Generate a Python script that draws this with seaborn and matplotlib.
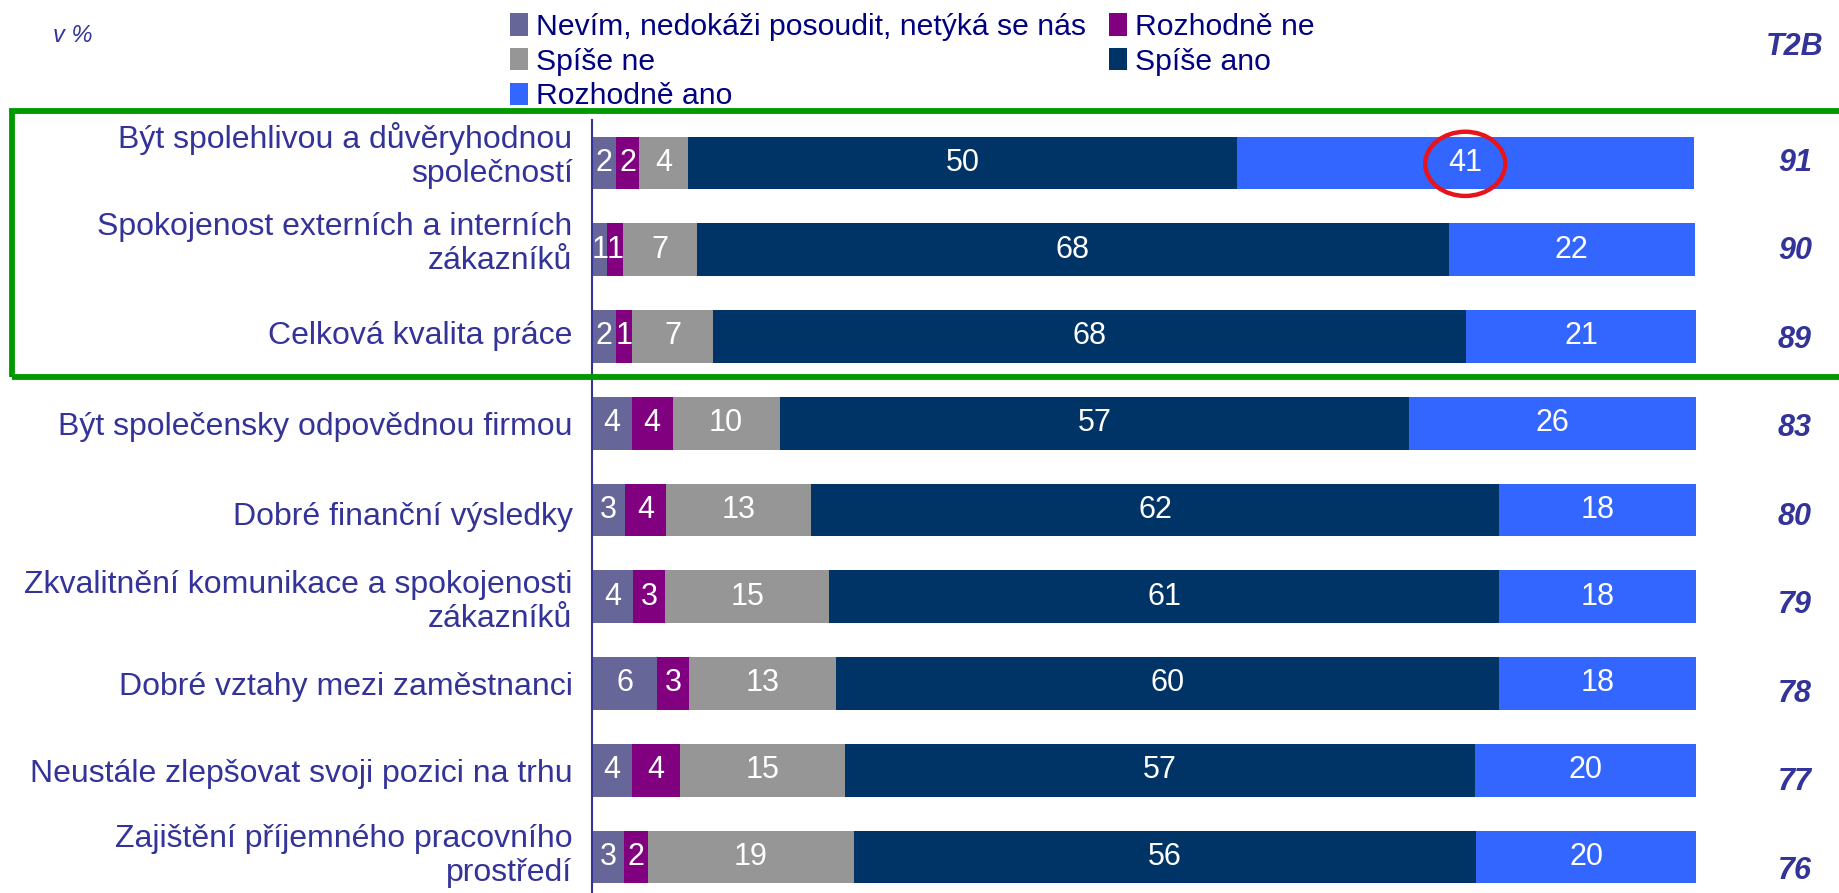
import numpy as np
import pandas as pd
import matplotlib
matplotlib.use("Agg")
import matplotlib.pyplot as plt
import matplotlib.transforms as mtransforms
import seaborn as sns
from matplotlib.patches import Ellipse, Rectangle, Patch

# ---------------- data ----------------
categories = [
    "Být spolehlivou a důvěryhodnou\nspolečností",
    "Spokojenost externích a interních\nzákazníků",
    "Celková kvalita práce",
    "Být společensky odpovědnou firmou",
    "Dobré finanční výsledky",
    "Zkvalitnění komunikace a spokojenosti\nzákazníků",
    "Dobré vztahy mezi zaměstnanci",
    "Neustále zlepšovat svoji pozici na trhu",
    "Zajištění příjemného pracovního\nprostředí",
]
series_names = ["Nevím, nedokáži posoudit, netýká se nás", "Rozhodně ne",
                "Spíše ne", "Spíše ano", "Rozhodně ano"]
nevim = [2.2, 1.4, 2.2, 3.6, 3.0, 3.7, 5.9, 3.6, 2.9]
rozhodne_ne = [2.1, 1.4, 1.4, 3.7, 3.7, 2.9, 2.9, 4.4, 2.2]
spise_ne = [4.4, 6.7, 7.4, 9.7, 13.1, 14.9, 13.3, 14.9, 18.6]
spise_ano = [49.7, 68.1, 68.2, 57.0, 62.4, 60.7, 60.1, 57.1, 56.4]
rozhodne_ano = [41.4, 22.3, 20.8, 26.0, 17.8, 17.8, 17.8, 20.0, 20.0]
t2b = [91, 90, 89, 83, 80, 79, 78, 77, 76]
circled = (0, 4)              # (row, series) of the circled value

colors = ["#666699", "#800080", "#969696", "#003366", "#3366FF"]
txt_col = "#333399"

# ---------------- figure ----------------
sns.set_style("white")
plt.rcParams["font.family"] = ["Liberation Sans", "DejaVu Sans"]

W, H = 1839, 893
fig = plt.figure(figsize=(W / 100, H / 100), dpi=100)

x0, x1 = 592, 1696
row_px = 86.75
top_px = 119.6
n = len(categories)
bottom_px = top_px + n * row_px
ax = fig.add_axes([x0 / W, 1 - bottom_px / H, (x1 - x0) / W, (bottom_px - top_px) / H])

vals = np.array([nevim, rozhodne_ne, spise_ne, spise_ano, rozhodne_ano], dtype=float)
cum = np.cumsum(vals, axis=0)

ids = list(range(n))
bar_w = 0.61
# draw cumulative layers from the outermost inward (stacked bars)
for s in range(len(series_names) - 1, -1, -1):
    df = pd.DataFrame({"cat": ids, "val": cum[s]})
    sns.barplot(data=df, y="cat", x="val", orient="h", order=ids,
                color=colors[s], saturation=1, width=bar_w, ax=ax,
                edgecolor="none", linewidth=0)

# value labels
for s in range(len(series_names)):
    for i in range(n):
        xc = cum[s, i] - vals[s, i] / 2
        ax.text(xc, i, f"{int(np.floor(vals[s, i] + 0.5))}", ha="center",
                va="center", color="white", fontsize=22)

# circled value
ri, si = circled
ex = cum[si, ri] - vals[si, ri] / 2
ax.add_patch(Ellipse((ex, ri + 0.01), 7.25, 0.74, fill=False,
                     edgecolor="#E8141B", linewidth=3.2, zorder=5, clip_on=False))

ax.set_xlim(0, 100)
ax.set_ylim(n - 0.5, -0.5)
ax.set_xlabel("")
ax.set_ylabel("")
ax.set_xticks([])
ax.set_yticks(ids)
ax.set_yticklabels(categories, fontsize=23, color=txt_col, linespacing=1.17,
                   multialignment="right")
ax.set_yticks(np.arange(-0.5, n + 0.5, 1), minor=True)
ax.tick_params(axis="y", which="major", length=0, pad=14)
ax.tick_params(axis="y", which="minor", length=8, width=1.2, color=txt_col,
               direction="out")
for sp in ["top", "right", "bottom"]:
    ax.spines[sp].set_visible(False)
ax.spines["left"].set_color(txt_col)
ax.spines["left"].set_linewidth(1.5)

# small vertical nudges of the wrapped labels (in px), as laid out in the source slide
label_shift_px = {0: 13, 1: 11, 2: 4, 4: -4, 8: 6}
for i, lab in enumerate(ax.get_yticklabels()):
    dy = label_shift_px.get(i, 0)
    if dy:
        lab.set_transform(lab.get_transform() +
                          mtransforms.ScaledTranslation(0, dy / 100, fig.dpi_scale_trans))

# T2B column
for i, v in enumerate(t2b):
    y_disp = top_px + (i + 0.5) * row_px + i * 1.75
    fig.text(1795 / W, 1 - y_disp / H, str(v), ha="center", va="center",
             fontsize=22, fontweight="bold", fontstyle="italic", color=txt_col)
fig.text(1795 / W, 1 - 47 / H, "T2B", ha="center", va="center",
         fontsize=22, fontweight="bold", fontstyle="italic", color=txt_col)
fig.text(53 / W, 1 - 35 / H, "v %", ha="left", va="center",
         fontsize=17, fontstyle="italic", color=txt_col)

# legend
handles = [Patch(facecolor=c, edgecolor="none") for c in colors]
order = [0, 2, 4, 1, 3]
leg = fig.legend([handles[k] for k in order], [series_names[k] for k in order],
                 loc="upper left", bbox_to_anchor=(510 / W, 1 - 13 / H), ncol=2,
                 frameon=False, fontsize=21.7, handlelength=0.6, handleheight=0.75,
                 handletextpad=0.25, labelspacing=0.22, columnspacing=0.78,
                 borderpad=0, borderaxespad=0)
for t in leg.get_texts():
    t.set_color("#000080")

# green highlight frame
frame_top = 111
frame_bot = 377
fig.add_artist(Rectangle((12 / W, 1 - frame_bot / H), (W + 20) / W,
                         (frame_bot - frame_top) / H, fill=False,
                         edgecolor="#009900", linewidth=4.2,
                         transform=fig.transFigure, clip_on=False))

fig.savefig("out.png", dpi=100)
